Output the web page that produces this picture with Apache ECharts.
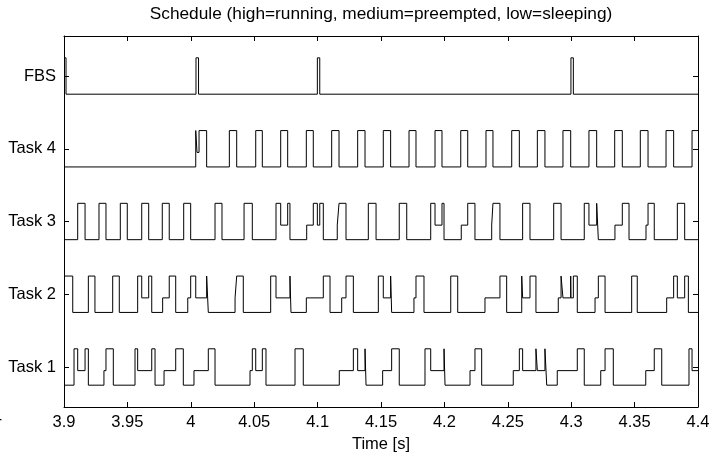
<!DOCTYPE html>
<html>
<head>
<meta charset="utf-8">
<script src="https://cdn.jsdelivr.net/npm/echarts@6/dist/echarts.min.js"></script>
<style>
html, body { margin: 0; padding: 0; background: #fff; }
#chart { width: 727px; height: 455px; }
</style>
</head>
<body>
<div id="chart"></div>
<script>
// row names, bottom to top (row k sits at y = k)
var rowNames = ['Task 1', 'Task 2', 'Task 3', 'Task 4', 'FBS'];
var xTicks = [3.9, 3.95, 4, 4.05, 4.1, 4.15, 4.2, 4.25, 4.3, 4.35, 4.4];
// level codes: 0 = sleeping (low), 1 = preempted (medium), 2 = running (high)
var levelOffset = [-0.25, -0.05, 0.25];
var tEnd = 4.4;

// each row: times where the state changes, and the state from that time on
var fbsTimes = [3.9, 3.9016, 4.0041, 4.0061, 4.0998, 4.1017, 4.2998, 4.3017];
var fbsLevels = [2, 0, 2, 0, 2, 0, 2, 0];

var task4Times = [3.9, 4.0039, 4.0049, 4.0065, 4.0125,
    4.0304, 4.0362, 4.0512, 4.0564, 4.0709, 4.0764, 4.0911, 4.0966,
    4.1111, 4.1169, 4.1316, 4.1374, 4.1518, 4.1576, 4.1721, 4.1776,
    4.1926, 4.1981, 4.2129, 4.2184, 4.2328, 4.2383, 4.2531, 4.2591,
    4.2733, 4.2793, 4.2935, 4.2996, 4.3140, 4.3201, 4.3343, 4.3403,
    4.3545, 4.3606, 4.3748, 4.3808, 4.3953];
var task4Levels = [0, 2, 1, 2, 0,
    2, 0, 2, 0, 2, 0, 2, 0,
    2, 0, 2, 0, 2, 0, 2, 0,
    2, 0, 2, 0, 2, 0, 2, 0,
    2, 0, 2, 0, 2, 0, 2, 0,
    2, 0, 2, 0, 2];

var task3Times = [3.9, 3.9108, 3.9166, 3.9276, 3.9331, 3.9444, 3.9499,
    3.9613, 3.9668, 3.9775, 3.9830, 3.9944, 3.9999, 4.0191, 4.0246,
    4.0420, 4.0485, 4.0672, 4.0709, 4.0764, 4.0782,
    4.0914, 4.0966, 4.0998, 4.1017, 4.1045,
    4.1155, 4.1169, 4.1224, 4.1400, 4.1461, 4.1644, 4.1703,
    4.1892, 4.1926, 4.1981, 4.1997, 4.2133, 4.2184, 4.2241,
    4.2373, 4.2383, 4.2438, 4.2617, 4.2675, 4.2862, 4.2920,
    4.3103, 4.3140, 4.3201, 4.3214, 4.3345, 4.3403, 4.3456,
    4.3590, 4.3606, 4.3655, 4.3837, 4.3895];
var task3Levels = [0, 2, 0, 2, 0, 2, 0,
    2, 0, 2, 0, 2, 0, 2, 0,
    2, 0, 2, 1, 2, 0,
    1, 2, 1, 2, 0,
    1, 2, 0, 2, 0, 2, 0,
    2, 1, 2, 0, 1, 2, 0,
    1, 2, 0, 2, 0, 2, 0,
    2, 1, 2, 0, 1, 2, 0,
    1, 2, 0, 2, 0];

var task2Times = [3.9, 3.9069, 3.9192, 3.9244, 3.9384, 3.9436,
    3.9581, 3.9613, 3.9668, 3.9692, 3.9778, 3.9830, 3.9881,
    3.9976, 3.9999, 4.0039, 4.0125, 4.0138, 4.0349, 4.0362, 4.0414,
    4.0630, 4.0672, 4.0782, 4.0790, 4.0911, 4.1045, 4.1098,
    4.1190, 4.1224, 4.1282, 4.1479, 4.1518, 4.1576, 4.1584,
    4.1760, 4.1776, 4.1839, 4.2050, 4.2105, 4.2320, 4.2438, 4.2491,
    4.2610, 4.2617, 4.2675, 4.2722, 4.2898, 4.2920, 4.2935, 4.2996,
    4.2998, 4.3017, 4.3048, 4.3188, 4.3214, 4.3267, 4.3477, 4.3521,
    4.3753, 4.3808, 4.3837, 4.3895, 4.3924];
var task2Levels = [2, 0, 2, 0, 2, 0,
    2, 1, 2, 0, 1, 2, 0,
    1, 2, 1, 2, 0, 1, 2, 0,
    2, 1, 2, 0, 1, 2, 0,
    1, 2, 0, 2, 1, 2, 0,
    1, 2, 0, 2, 0, 1, 2, 0,
    2, 1, 2, 0, 1, 2, 1, 2,
    1, 2, 0, 1, 2, 0, 2, 0,
    1, 2, 1, 2, 0];

var task1Times = [3.9, 3.9079, 3.9108, 3.9166, 3.9192, 3.9315, 3.9331, 3.9389,
    3.9560, 3.9581, 3.9692, 3.9718, 3.9789, 3.9881, 3.9941,
    4.0025, 4.0138, 4.0191, 4.0467, 4.0485, 4.0512, 4.0564, 4.0593,
    4.0822, 4.0887, 4.1171, 4.1282, 4.1316, 4.1374, 4.1382,
    4.1513, 4.1584, 4.1644, 4.1847, 4.1892, 4.1997, 4.2005,
    4.2202, 4.2241, 4.2294, 4.2543, 4.2591, 4.2617, 4.2722, 4.2733,
    4.2793, 4.2807, 4.2890, 4.3048, 4.3103, 4.3233, 4.3267, 4.3332,
    4.3588, 4.3655, 4.3714, 4.3929, 4.3953];
var task1Levels = [0, 2, 1, 2, 0, 1, 2, 0,
    2, 1, 2, 0, 1, 2, 0,
    1, 2, 0, 1, 2, 1, 2, 0,
    2, 0, 1, 2, 1, 2, 0,
    1, 2, 0, 2, 1, 2, 0,
    1, 2, 0, 1, 2, 1, 2, 1,
    2, 0, 1, 2, 0, 1, 2, 0,
    1, 2, 0, 2, 1];

function stepData(times, levels, row) {
    var out = [];
    for (var i = 0; i < times.length; i++) {
        out.push([times[i], row + levelOffset[levels[i]]]);
    }
    out.push([tEnd, row + levelOffset[levels[levels.length - 1]]]);
    return out;
}

function rowSeries(times, levels, row) {
    return {
        type: 'line',
        step: 'end',
        xAxisIndex: 0,
        yAxisIndex: 0,
        showSymbol: false,
        symbol: 'none',
        silent: true,
        lineStyle: {color: '#000', width: 1},
        data: stepData(times, levels, row)
    };
}

var font = 'Liberation Sans, Arial, Helvetica, sans-serif';
var rowTicks = [1, 2, 3, 4, 5];

var chart = echarts.init(document.getElementById('chart'));
var option = {
    animation: false,
    backgroundColor: '#fff',
    grid: {left: 64, right: 29, top: 36, bottom: 48, containLabel: false, outerBoundsMode: 'none'},
    graphic: [
        {
            type: 'text', x: 381, y: 14,
            style: {
                text: 'Schedule (high=running, medium=preempted, low=sleeping)',
                align: 'center', verticalAlign: 'middle',
                fontFamily: font, fontSize: 17.3, fill: '#000'
            }
        },
        {
            type: 'text', x: 2, y: 418,
            style: {text: '4', align: 'right', verticalAlign: 'middle',
                fontFamily: font, fontSize: 16.5, fill: '#000'}
        }
    ],
    xAxis: [{
        type: 'value',
        position: 'bottom',
        min: 3.9,
        max: 4.4,
        interval: 0.05,
        name: 'Time [s]',
        nameLocation: 'middle',
        nameGap: 29,
        nameTextStyle: {fontFamily: font, fontSize: 16.5, color: '#000'},
        axisLine: {show: true, onZero: false, lineStyle: {color: '#000', width: 1}},
        axisTick: {show: true, inside: true, length: 5, lineStyle: {color: '#000'}},
        axisLabel: {
            fontFamily: font, fontSize: 16.5, color: '#000', margin: 7,
            formatter: function (v) { return String(parseFloat(v.toFixed(2))); }
        },
        splitLine: {show: false}
    }, {
        type: 'value',
        position: 'top',
        min: 3.9,
        max: 4.4,
        interval: 0.05,
        axisLine: {show: true, onZero: false, lineStyle: {color: '#000', width: 1}},
        axisTick: {show: true, inside: true, length: 5, lineStyle: {color: '#000'}},
        axisLabel: {show: false},
        splitLine: {show: false}
    }],
    yAxis: [{
        type: 'value',
        position: 'left',
        min: 0.45,
        max: 5.55,
        axisLine: {show: true, onZero: false, lineStyle: {color: '#000', width: 1}},
        axisTick: {show: true, inside: true, length: 5, customValues: rowTicks, lineStyle: {color: '#000'}},
        axisLabel: {
            customValues: rowTicks,
            fontFamily: font, fontSize: 16.5, color: '#000', margin: 8,
            formatter: function (v) { return rowNames[Math.round(v) - 1]; }
        },
        splitLine: {show: false}
    }, {
        type: 'value',
        position: 'right',
        min: 0.45,
        max: 5.55,
        axisLine: {show: true, onZero: false, lineStyle: {color: '#000', width: 1}},
        axisTick: {show: true, inside: true, length: 5, customValues: rowTicks, lineStyle: {color: '#000'}},
        axisLabel: {show: false},
        splitLine: {show: false}
    }],
    series: [
        rowSeries(task1Times, task1Levels, 1),
        rowSeries(task2Times, task2Levels, 2),
        rowSeries(task3Times, task3Levels, 3),
        rowSeries(task4Times, task4Levels, 4),
        rowSeries(fbsTimes, fbsLevels, 5)
    ]
};
chart.setOption(option);
</script>
</body>
</html>
